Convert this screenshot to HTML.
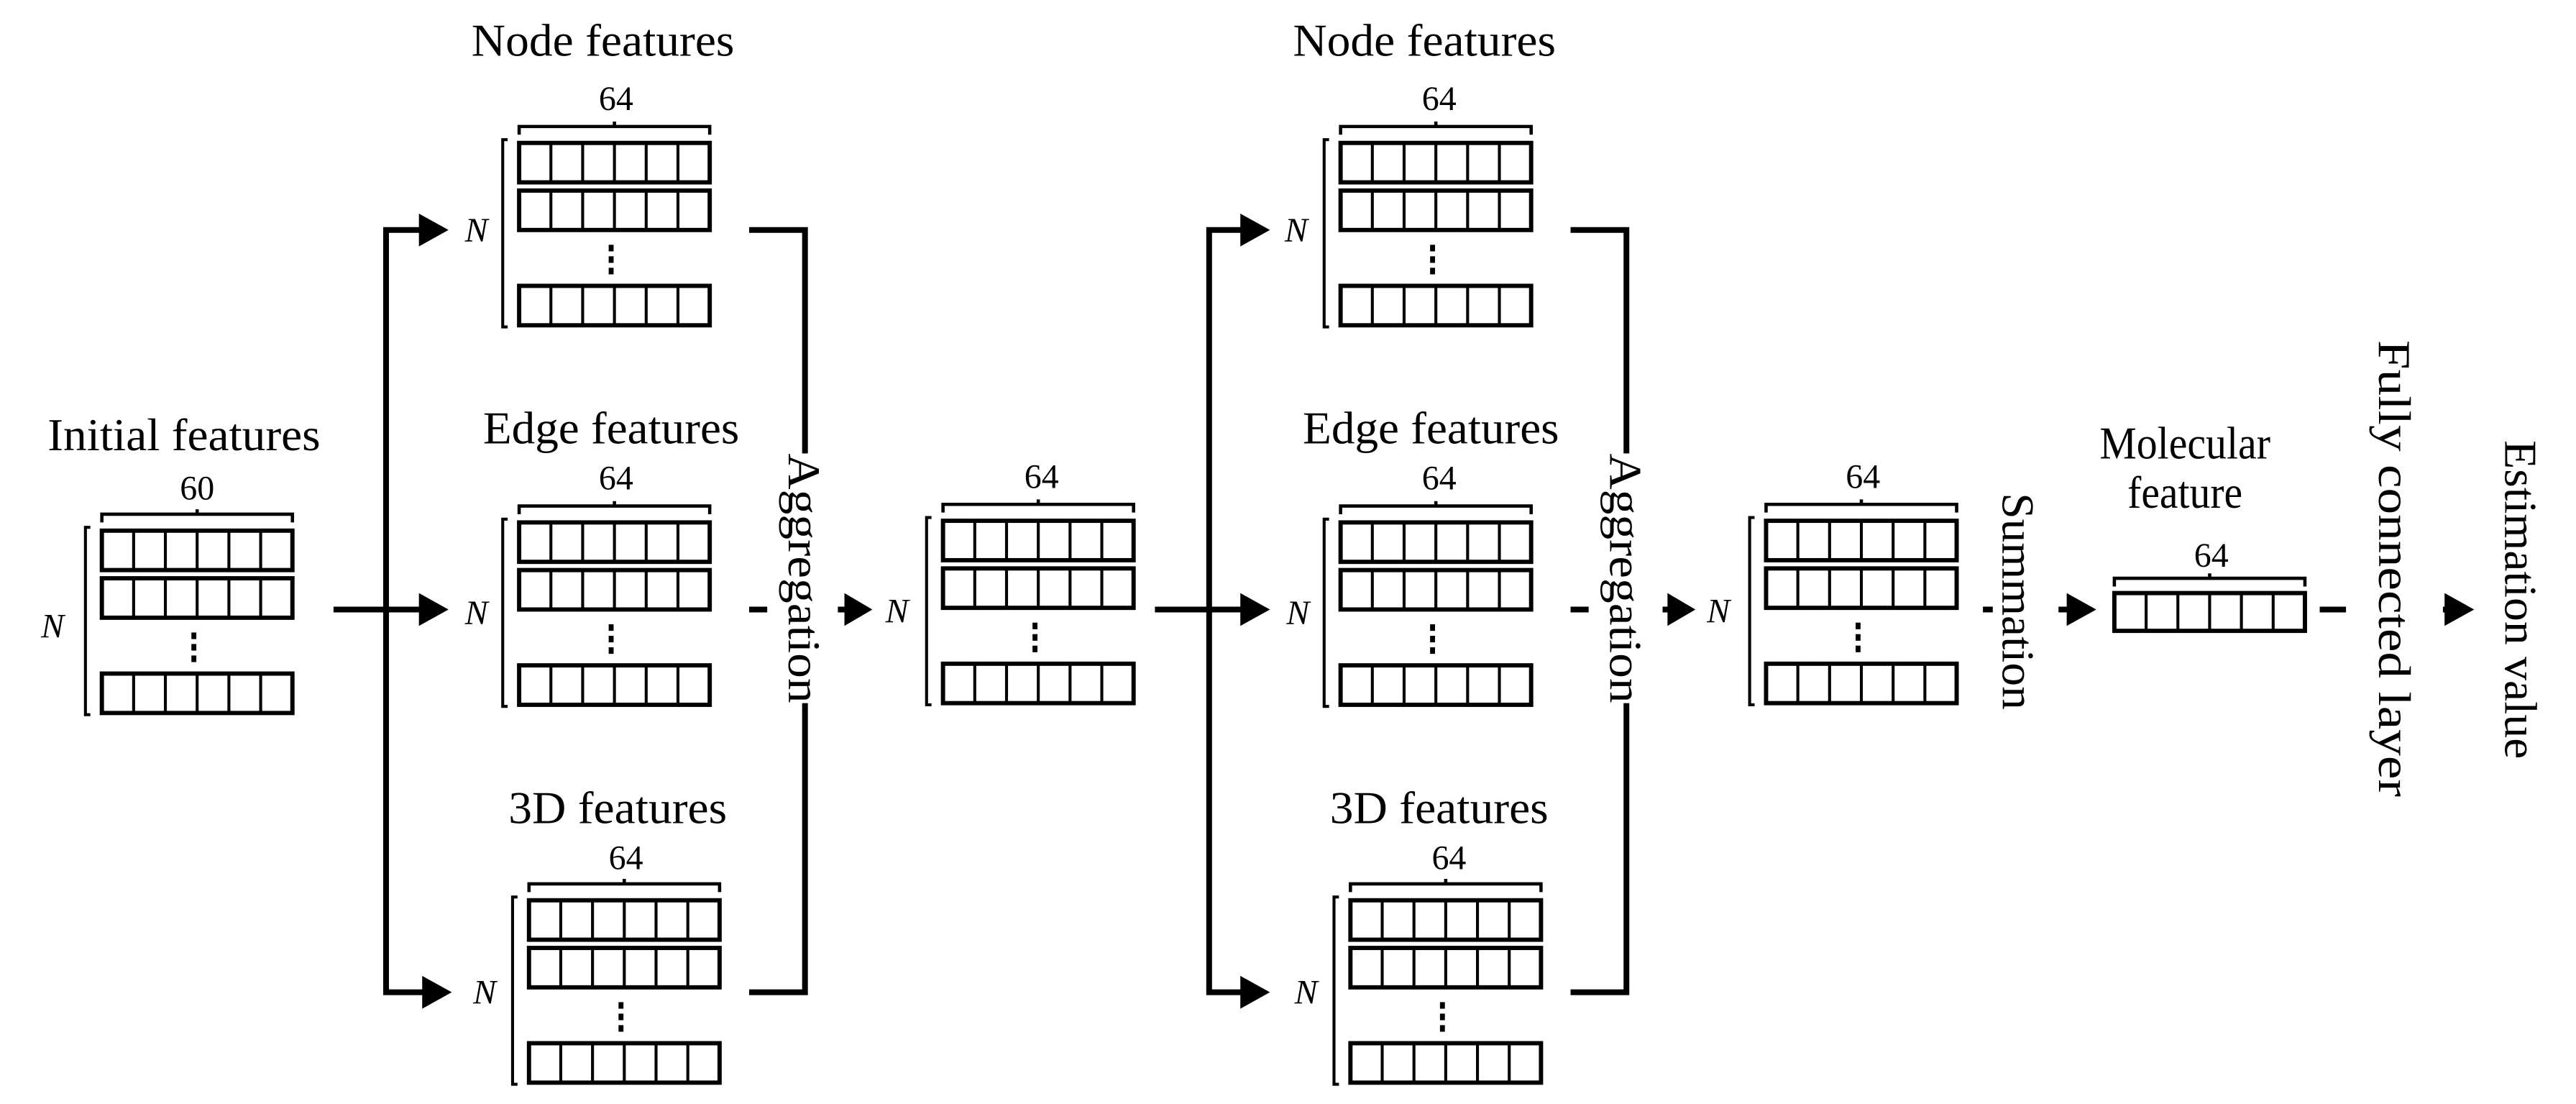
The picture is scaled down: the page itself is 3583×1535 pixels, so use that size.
<!DOCTYPE html>
<html><head><meta charset="utf-8"><style>
html,body{margin:0;padding:0;background:#fff;}
svg{display:block;}
text{font-family:"Liberation Serif",serif;fill:#000;}
</style></head><body>
<svg id="s" width="3583" height="1535" viewBox="0 0 1568 672" preserveAspectRatio="none" xmlns="http://www.w3.org/2000/svg">
<rect width="1568" height="672" fill="#fff"/>
<g id="m"></g>
<g stroke="#000" stroke-width="3.5" fill="none">
<line x1="203" y1="371" x2="258" y2="371"/>
<polyline points="258,140 235,140 235,604 258,604"/>
<polyline points="456,140 490,140 490,604 456,604"/>
<line x1="456" y1="371" x2="467" y2="371"/>
<line x1="510" y1="371" x2="518" y2="371"/>
<line x1="703" y1="371" x2="758" y2="371"/>
<polyline points="758,140 736,140 736,604 758,604"/>
<polyline points="956,140 990,140 990,604 956,604"/>
<line x1="956" y1="371" x2="967" y2="371"/>
<line x1="1012" y1="371" x2="1020" y2="371"/>
<line x1="1207" y1="371" x2="1213" y2="371"/>
<line x1="1253" y1="371" x2="1262" y2="371"/>
<line x1="1412" y1="371" x2="1428" y2="371"/>
<line x1="1487" y1="371" x2="1494" y2="371"/>
</g>
<rect x="477" y="276" width="22" height="152" fill="#fff"/>
<rect x="977" y="276" width="22" height="152" fill="#fff"/>
<g fill="#000">
<polygon points="255,361 273,371 255,381"/>
<polygon points="255,130 273,140 255,150"/>
<polygon points="257,594 275,604 257,614"/>
<polygon points="514,361 531,371 514,381"/>
<polygon points="755,361 773,371 755,381"/>
<polygon points="755,130 773,140 755,150"/>
<polygon points="755,594 773,604 755,614"/>
<polygon points="1015,361 1032,371 1015,381"/>
<polygon points="1258,361 1276,371 1258,381"/>
<polygon points="1488,361 1506,371 1488,381"/>
</g>
<g font-size="28">
<text x="112" y="274" text-anchor="middle" textLength="166" lengthAdjust="spacingAndGlyphs">Initial features</text>
<text x="367" y="34" text-anchor="middle" textLength="160" lengthAdjust="spacingAndGlyphs">Node features</text>
<text x="372" y="270" text-anchor="middle" textLength="156" lengthAdjust="spacingAndGlyphs">Edge features</text>
<text x="376" y="501" text-anchor="middle" textLength="133" lengthAdjust="spacingAndGlyphs">3D features</text>
<text x="867" y="34" text-anchor="middle" textLength="160" lengthAdjust="spacingAndGlyphs">Node features</text>
<text x="871" y="270" text-anchor="middle" textLength="156" lengthAdjust="spacingAndGlyphs">Edge features</text>
<text x="876" y="501" text-anchor="middle" textLength="133" lengthAdjust="spacingAndGlyphs">3D features</text>
<text x="1330" y="279" text-anchor="middle" textLength="104" lengthAdjust="spacingAndGlyphs">Molecular</text>
<text x="1330" y="309" text-anchor="middle" textLength="70" lengthAdjust="spacingAndGlyphs">feature</text>
<text transform="translate(480,352) rotate(90)" text-anchor="middle" textLength="152" lengthAdjust="spacingAndGlyphs">Aggregation</text>
<text transform="translate(980,352) rotate(90)" text-anchor="middle" textLength="152" lengthAdjust="spacingAndGlyphs">Aggregation</text>
<text transform="translate(1219,366) rotate(90)" text-anchor="middle" textLength="132" lengthAdjust="spacingAndGlyphs">Summation</text>
<text transform="translate(1448,346) rotate(90)" text-anchor="middle" textLength="278" lengthAdjust="spacingAndGlyphs">Fully connected layer</text>
<text transform="translate(1525,365) rotate(90)" text-anchor="middle" textLength="194" lengthAdjust="spacingAndGlyphs">Estimation value</text>
</g>
<g font-size="21" text-anchor="middle">
<text x="120" y="304">60</text>
<text x="375" y="67">64</text>
<text x="375" y="298">64</text>
<text x="381" y="529">64</text>
<text x="634" y="297">64</text>
<text x="876" y="67">64</text>
<text x="876" y="298">64</text>
<text x="882" y="529">64</text>
<text x="1134" y="297">64</text>
<text x="1346" y="345">64</text>
</g>
<g font-size="21" font-style="italic" text-anchor="middle">
<text x="32" y="388">N</text>
<text x="290" y="147">N</text>
<text x="290" y="380">N</text>
<text x="295" y="611">N</text>
<text x="546" y="379">N</text>
<text x="789" y="147">N</text>
<text x="790" y="380">N</text>
<text x="795" y="611">N</text>
<text x="1046" y="379">N</text>
</g>
</svg>
<script>
(function(){
var g=document.getElementById('m'),NS='http://www.w3.org/2000/svg';
function el(t,a){var e=document.createElementNS(NS,t);for(var k in a)e.setAttribute(k,a[k]);g.appendChild(e);return e;}
function row(x,y,w,h){
 el('rect',{x:x,y:y,width:w,height:h,fill:'#fff',stroke:'#000','stroke-width':2.6});
 for(var i=1;i<6;i++){var cx=x+w*i/6;el('line',{x1:cx,y1:y,x2:cx,y2:y+h,stroke:'#000','stroke-width':1.8});}
}
function brace(x,y,w){
 el('path',{d:'M'+x+' '+(y+5)+' V'+y+' H'+(x+w)+' V'+(y+5)+' M'+(x+w/2)+' '+y+' V'+(y-3),fill:'none',stroke:'#000','stroke-width':2});
}
function mat(x,T){
 var w=116;
 brace(x,T-10,w);
 row(x,T,w,24);row(x,T+29,w,24);row(x,T+87,w,24);
 el('path',{d:'M'+(x-7)+' '+(T-2)+' H'+(x-10)+' V'+(T+112)+' H'+(x-7),fill:'none',stroke:'#000','stroke-width':1.8});
 var cx=x+w/2-2;
 for(var i=0;i<3;i++)el('rect',{x:cx-1.5,y:T+62+i*7,width:3,height:4,fill:'#000'});
}
mat(62,323);mat(316,87);mat(316,318);mat(322,548);mat(574,317);
mat(816,87);mat(816,318);mat(822,548);mat(1075,317);
brace(1287,352,116);row(1287,361,116,23);
})();
</script>
</body></html>
